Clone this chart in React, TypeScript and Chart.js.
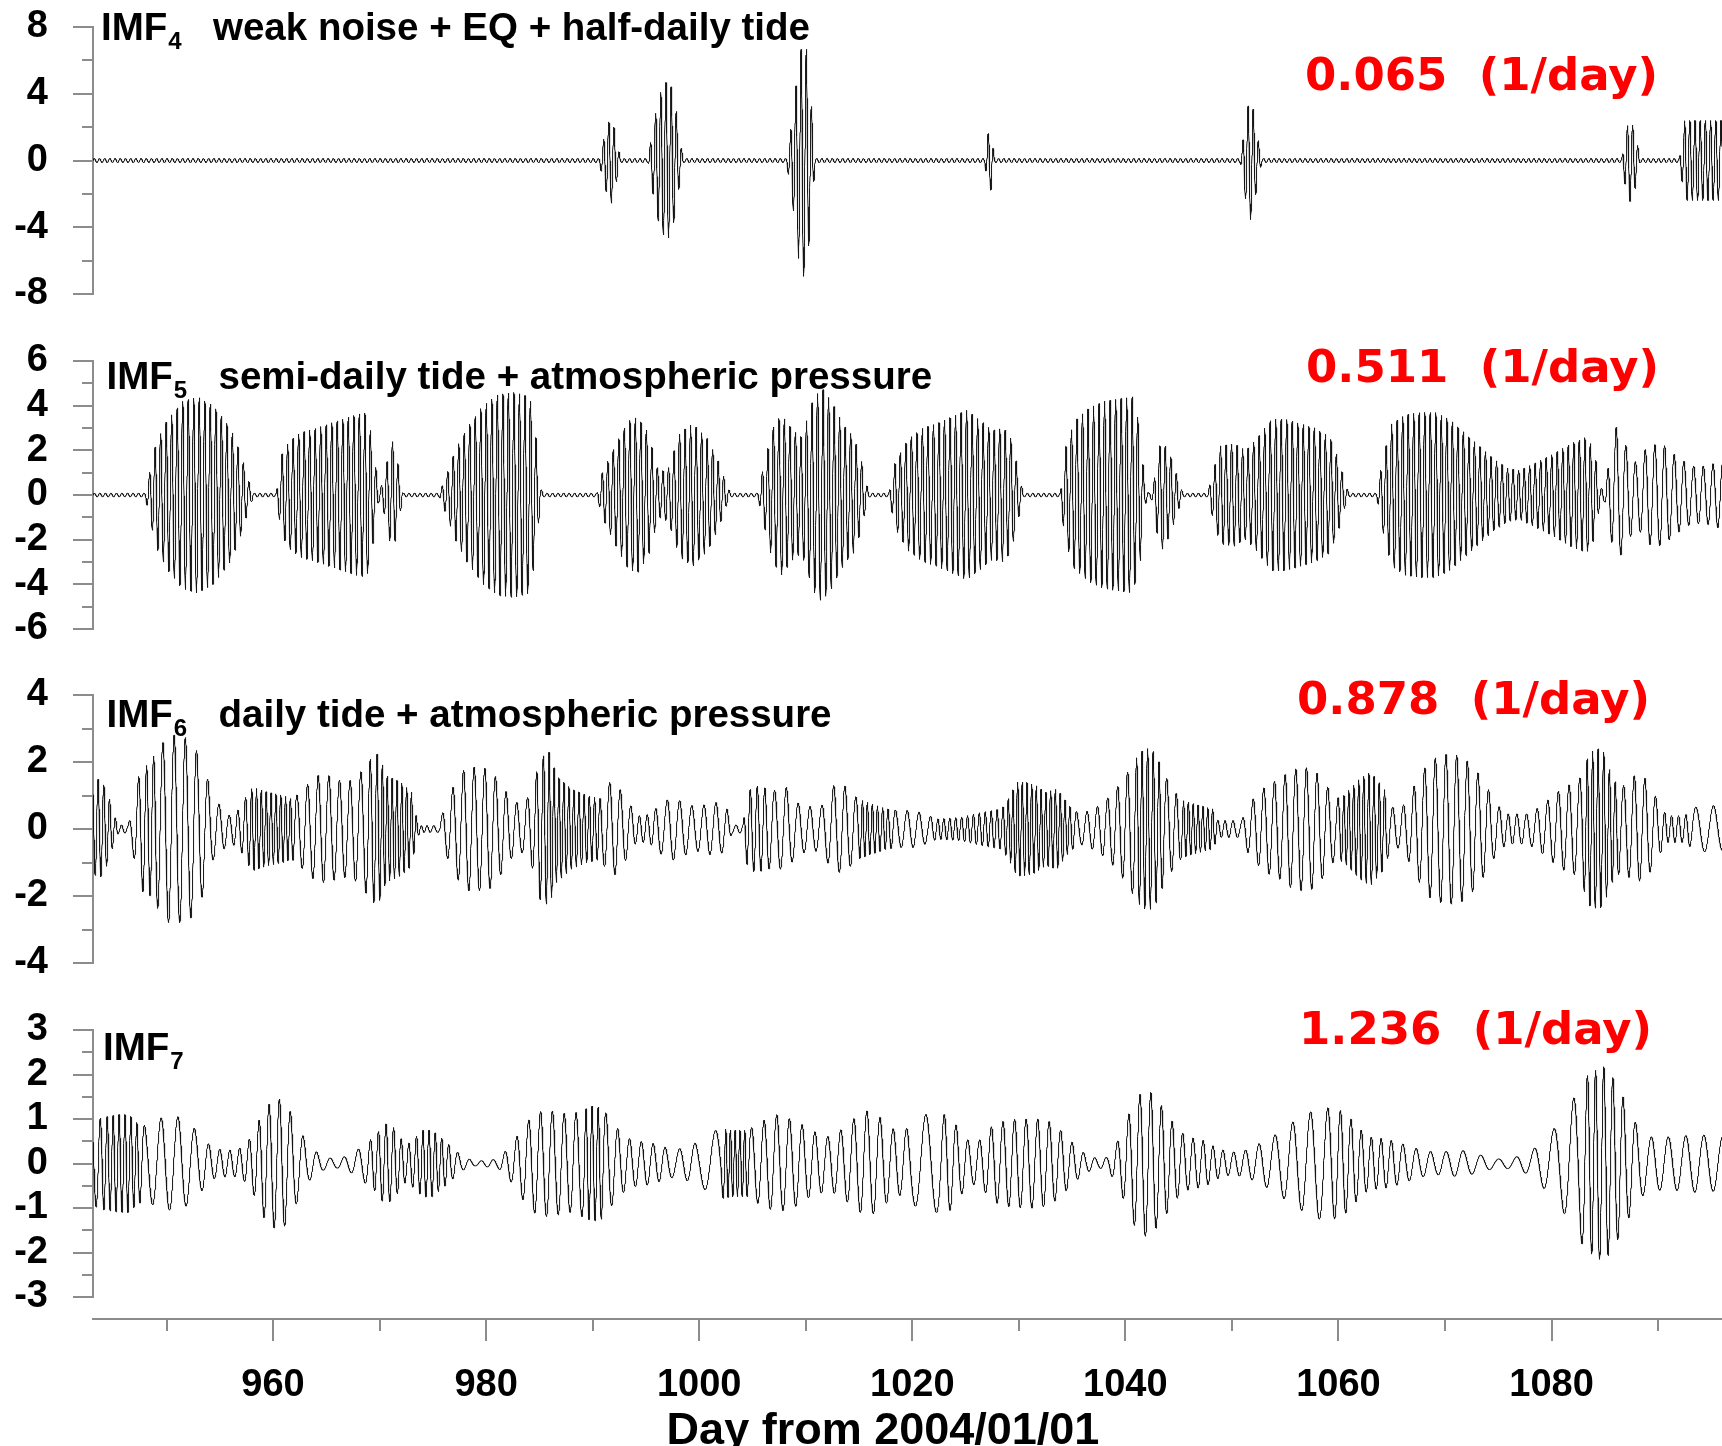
import React, { useEffect, useRef } from "react";
import { Chart, registerables } from "chart.js";

Chart.register(...registerables);

// ---- shared axis data -------------------------------------------------------
const DAY_MIN = 943.1;
const DAY_MAX = 1096.0;
const X_MAJOR_TICKS = [960, 980, 1000, 1020, 1040, 1060, 1080];
const X_MINOR_TICKS = [950, 970, 990, 1010, 1030, 1050, 1070, 1090];
const X_TITLE = "Day from 2004/01/01";

// ---- panel texts ------------------------------------------------------------
const IMF_NUMBERS = ["4", "5", "6", "7"];
const IMF_NOTES = [
  "weak noise + EQ + half-daily tide",
  "semi-daily tide + atmospheric pressure",
  "daily tide + atmospheric pressure",
  "",
];
const IMF_FREQ_LABELS = ["0.065  (1/day)", "0.511  (1/day)", "0.878  (1/day)", "1.236  (1/day)"];

// ---- y axes -----------------------------------------------------------------
const Y_RANGES = [
  [-8, 8],
  [-6, 6],
  [-4, 4],
  [-3, 3],
];
const Y_MAJOR = [
  [-8, -4, 0, 4, 8],
  [-6, -4, -2, 0, 2, 4, 6],
  [-4, -2, 0, 2, 4],
  [-3, -2, -1, 0, 1, 2, 3],
];
const Y_MINOR = [
  [-6, -2, 2, 6],
  [-5, -3, -1, 1, 3, 5],
  [-3, -1, 1, 3],
  [-2.5, -1.5, -0.5, 0.5, 1.5, 2.5],
];

// ---- IMF envelopes [day, amplitude] and carrier frequency [day, cycles/day] --
const imf4Envelope: [number, number][] = [
  [943.0, 0.12], [990.6, 0.12], [991.0, 1.2], [991.4, 2.2], [991.8, 2.6], [992.2, 1.4], [992.6, 0.12],
  [995.2, 0.12], [995.6, 1.8], [996.2, 3.8], [996.8, 4.7], [997.3, 4.6], [997.8, 3.2], [998.2, 1.2], [998.5, 0.12],
  [1008.2, 0.12], [1008.8, 2.8], [1009.3, 5.8], [1009.7, 7.1], [1010.1, 6.6], [1010.5, 3.5], [1010.9, 0.12],
  [1026.8, 0.12], [1027.1, 1.6], [1027.4, 1.8], [1027.7, 0.12],
  [1050.8, 0.12], [1051.2, 2.0], [1051.6, 3.6], [1051.9, 3.5], [1052.3, 1.8], [1052.8, 0.12],
  [1086.6, 0.12], [1087.0, 1.9], [1087.4, 2.5], [1087.9, 1.6], [1088.3, 0.12],
  [1092.0, 0.12], [1092.5, 2.4], [1096.5, 2.4],
];
const imf4Frequency: [number, number][] = [
  [943.0, 2.05], [1096.5, 2.05],
];

const imf5Envelope: [number, number][] = [
  [943.0, 0.08], [948.0, 0.08], [948.5, 1.2], [949.0, 2.3], [950.0, 3.3], [951.5, 4.2], [952.9, 4.4],
  [954.4, 4.0], [956.0, 3.0], [957.0, 1.8], [957.8, 0.5], [958.2, 0.08], [960.3, 0.08], [960.8, 1.8],
  [961.5, 2.4], [962.6, 2.8], [964.1, 3.0], [965.9, 3.3], [967.8, 3.6], [968.8, 3.7], [969.3, 2.5],
  [969.9, 0.3], [970.3, 0.5], [970.9, 2.0], [971.3, 2.5], [971.8, 1.2], [972.2, 0.08], [975.6, 0.08],
  [976.2, 0.8], [977.1, 2.0], [978.2, 3.0], [979.7, 4.0], [981.1, 4.5], [982.6, 4.6], [984.1, 4.4],
  [984.7, 2.5], [985.1, 0.3], [985.4, 0.08], [990.4, 0.08], [990.9, 1.0], [992.1, 2.2], [993.3, 3.3],
  [994.2, 3.5], [995.2, 2.8], [996.2, 1.0], [997.1, 1.2], [998.2, 2.8], [999.4, 3.2], [1000.8, 2.5],
  [1001.8, 1.5], [1002.7, 0.3], [1003.0, 0.08], [1005.5, 0.08], [1006.0, 1.2], [1006.9, 3.0],
  [1007.7, 3.6], [1008.8, 2.9], [1009.6, 2.6], [1010.7, 4.3], [1011.5, 4.8], [1012.4, 4.2],
  [1013.6, 3.1], [1014.5, 2.6], [1015.2, 1.6], [1015.8, 0.3], [1016.0, 0.08], [1017.8, 0.08],
  [1018.4, 1.5], [1019.6, 2.5], [1021.0, 3.0], [1022.3, 3.2], [1023.7, 3.5], [1025.1, 3.8],
  [1026.5, 3.3], [1027.5, 2.9], [1028.6, 3.0], [1029.3, 2.5], [1030.0, 1.0], [1030.4, 0.08],
  [1033.9, 0.08], [1034.3, 2.0], [1035.2, 3.3], [1036.6, 3.9], [1038.0, 4.2], [1039.3, 4.3],
  [1040.7, 4.4], [1041.4, 3.0], [1041.8, 0.5], [1042.2, 0.08], [1042.6, 0.3], [1043.0, 1.8],
  [1043.4, 2.5], [1044.2, 1.8], [1045.1, 0.5], [1045.4, 0.08], [1047.7, 0.08], [1048.2, 1.0],
  [1048.9, 2.2], [1050.2, 2.3], [1051.3, 2.0], [1052.3, 2.5], [1053.7, 3.4], [1055.0, 3.4],
  [1056.4, 3.2], [1057.8, 3.0], [1059.2, 2.6], [1060.0, 1.6], [1060.7, 0.4], [1061.0, 0.08],
  [1063.6, 0.08], [1064.1, 1.5], [1065.0, 3.2], [1066.3, 3.6], [1067.7, 3.7], [1069.1, 3.7],
  [1070.4, 3.4], [1071.8, 2.8], [1073.2, 2.2], [1074.6, 1.6], [1075.9, 1.2], [1077.0, 1.1],
  [1078.3, 1.4], [1080.0, 1.8], [1081.8, 2.3], [1083.3, 2.6], [1084.0, 2.0], [1084.6, 0.3],
  [1085.0, 0.3], [1085.5, 1.8], [1086.1, 3.1], [1087.0, 2.2], [1088.0, 1.4], [1089.0, 2.2],
  [1090.4, 2.3], [1091.8, 1.7], [1093.1, 1.3], [1094.5, 1.3], [1095.9, 1.5], [1096.5, 1.5],
];
const imf5Frequency: [number, number][] = [
  [943.0, 1.93], [1084.5, 1.93], [1086.0, 1.1], [1096.5, 1.1],
];

const imf6Envelope: [number, number][] = [
  [943.0, 1.2], [943.5, 1.5], [944.0, 1.4], [944.6, 0.95], [945.1, 0.4], [945.5, 0.12], [946.4, 0.12],
  [946.8, 0.6], [947.3, 1.5], [947.8, 1.9], [948.3, 1.9], [949.0, 2.3], [950.2, 2.8], [951.3, 2.8],
  [952.3, 2.65], [953.4, 2.0], [954.4, 0.9], [955.4, 0.6], [955.9, 0.4], [956.9, 0.6], [957.5, 1.0],
  [958.1, 1.25], [959.5, 1.1], [961.0, 1.0], [961.7, 0.9], [962.2, 1.0], [963.1, 1.3], [964.2, 1.6],
  [965.2, 1.6], [966.3, 1.45], [967.3, 1.45], [968.1, 1.65], [969.4, 2.2], [969.9, 2.25], [970.6, 1.6],
  [972.0, 1.4], [973.0, 1.1], [973.5, 0.3], [973.8, 0.1], [975.6, 0.1], [976.0, 0.6], [977.1, 1.4],
  [978.1, 1.85], [979.2, 1.85], [980.3, 1.8], [981.3, 1.4], [982.3, 0.9], [983.4, 0.7], [984.4, 1.2],
  [985.0, 2.1], [985.9, 2.3], [986.6, 1.6], [988.0, 1.2], [989.5, 1.0], [990.8, 0.9], [991.5, 1.4],
  [992.2, 1.35], [993.3, 0.85], [994.1, 0.4], [994.7, 0.4], [995.4, 0.45], [996.2, 0.7], [997.4, 0.95],
  [998.5, 0.8], [999.7, 0.65], [1000.8, 0.75], [1001.8, 0.8], [1002.6, 0.6], [1003.1, 0.12],
  [1004.1, 0.12], [1004.5, 1.1], [1005.2, 1.3], [1005.9, 1.25], [1007.0, 1.15], [1008.2, 1.25],
  [1009.1, 0.8], [1009.9, 0.7], [1010.8, 0.65], [1011.5, 0.7], [1012.6, 1.3], [1013.6, 1.3],
  [1014.9, 0.9], [1016.2, 0.75], [1017.6, 0.6], [1018.8, 0.55], [1020.1, 0.55], [1021.2, 0.45],
  [1022.4, 0.3], [1024.5, 0.35], [1026.5, 0.5], [1028.4, 0.6], [1029.2, 1.0], [1029.8, 1.4],
  [1030.7, 1.4], [1031.6, 1.3], [1032.5, 1.1], [1033.6, 1.2], [1034.7, 0.7], [1035.7, 0.45],
  [1036.6, 0.55], [1037.5, 0.7], [1038.6, 1.0], [1039.6, 1.4], [1040.6, 1.9], [1041.4, 2.3],
  [1041.9, 2.4], [1042.4, 2.4], [1042.9, 2.2], [1043.7, 1.6], [1044.8, 1.05], [1045.4, 0.85],
  [1047.0, 0.7], [1048.2, 0.6], [1048.7, 0.25], [1050.9, 0.25], [1051.5, 0.7], [1052.5, 1.1],
  [1053.5, 1.35], [1054.5, 1.5], [1055.5, 1.75], [1056.6, 1.85], [1057.6, 1.8], [1058.6, 1.45],
  [1059.7, 0.9], [1060.5, 1.0], [1062.0, 1.5], [1063.0, 1.7], [1064.3, 1.2], [1064.8, 0.7],
  [1065.7, 0.55], [1066.5, 0.9], [1067.6, 1.6], [1068.6, 2.05], [1069.6, 2.2], [1070.7, 2.25],
  [1071.7, 2.15], [1072.7, 1.85], [1073.8, 1.35], [1074.8, 0.75], [1075.8, 0.45], [1077.7, 0.45],
  [1078.6, 0.6], [1079.6, 0.85], [1080.5, 1.1], [1081.5, 1.3], [1082.5, 1.4], [1083.6, 2.3],
  [1084.4, 2.4], [1084.9, 2.3], [1085.4, 1.8], [1086.0, 1.4], [1086.8, 1.3], [1087.8, 1.6],
  [1088.9, 1.5], [1089.9, 0.9], [1090.8, 0.4], [1092.5, 0.4], [1093.5, 0.65], [1095.2, 0.7],
  [1096.5, 0.6],
];
const imf6Frequency: [number, number][] = [
  [943.0, 1.9], [945.5, 1.8], [946.8, 1.0], [948.5, 1.6], [949.5, 0.95], [955.0, 0.95], [957.5, 1.5],
  [958.1, 2.2], [961.7, 2.2], [962.2, 1.0], [968.5, 1.0], [969.5, 1.6], [970.3, 2.2], [973.5, 2.2],
  [976.0, 1.0], [984.0, 1.0], [985.5, 1.8], [986.2, 2.2], [990.5, 2.0], [991.0, 1.0], [993.5, 1.0],
  [994.2, 1.4], [995.5, 1.3], [996.5, 0.85], [1002.0, 0.9], [1004.4, 1.6], [1006.0, 1.4],
  [1007.0, 0.9], [1012.0, 0.9], [1014.8, 1.0], [1015.2, 2.2], [1017.6, 2.0], [1018.5, 0.9],
  [1021.5, 0.9], [1022.4, 1.8], [1028.4, 1.8], [1029.2, 2.3], [1034.7, 2.2], [1035.5, 1.0],
  [1040.8, 1.1], [1041.2, 2.0], [1043.2, 1.8], [1043.8, 1.0], [1045.2, 1.3], [1045.4, 2.2],
  [1048.3, 2.2], [1048.7, 1.6], [1051.0, 1.0], [1059.8, 1.0], [1060.4, 2.2], [1064.3, 2.0],
  [1064.8, 1.0], [1075.0, 1.0], [1075.8, 1.3], [1078.0, 1.0], [1082.8, 1.0], [1083.3, 2.0],
  [1086.0, 1.8], [1086.5, 1.0], [1090.0, 1.0], [1090.8, 1.6], [1092.8, 1.4], [1093.5, 0.6],
  [1096.5, 0.6],
];

const imf7Envelope: [number, number][] = [
  [943.0, 0.9], [943.5, 1.0], [944.3, 1.05], [945.5, 1.1], [946.5, 1.1], [947.3, 0.9], [948.1, 0.85],
  [949.7, 1.05], [951.4, 1.05], [952.8, 0.75], [954.3, 0.35], [955.4, 0.3], [956.5, 0.3], [957.3, 0.4],
  [958.1, 0.65], [959.1, 1.2], [960.1, 1.45], [961.0, 1.45], [962.1, 0.95], [963.3, 0.4], [964.7, 0.15],
  [966.0, 0.1], [967.3, 0.2], [968.7, 0.45], [969.7, 0.65], [970.4, 0.9], [971.2, 0.85], [971.9, 0.6],
  [972.5, 0.4], [973.4, 0.6], [974.1, 0.75], [974.9, 0.75], [975.7, 0.6], [976.4, 0.45], [977.8, 0.15],
  [979.0, 0.05], [981.1, 0.1], [982.3, 0.4], [983.7, 0.9], [984.7, 1.15], [985.8, 1.2], [986.9, 1.15],
  [987.9, 1.1], [989.1, 1.2], [990.0, 1.3], [990.9, 1.25], [992.1, 0.85], [993.2, 0.58], [994.3, 0.5],
  [995.3, 0.48], [996.3, 0.4], [997.7, 0.3], [999.1, 0.4], [1000.0, 0.5], [1001.9, 0.8], [1003.0, 0.75],
  [1004.5, 0.75], [1005.9, 0.95], [1007.3, 1.1], [1009.2, 0.95], [1010.4, 0.75], [1012.2, 0.6],
  [1013.6, 0.8], [1014.7, 1.05], [1015.9, 1.2], [1016.9, 1.05], [1018.0, 0.8], [1019.0, 0.7],
  [1021.0, 1.1], [1023.4, 1.1], [1024.6, 0.7], [1025.5, 0.45], [1026.5, 0.55], [1027.5, 0.85],
  [1028.6, 0.95], [1029.7, 1.0], [1031.8, 1.0], [1032.8, 0.95], [1033.9, 0.75], [1035.3, 0.4],
  [1036.3, 0.2], [1037.5, 0.1], [1038.4, 0.15], [1039.5, 0.6], [1040.7, 1.35], [1041.7, 1.65],
  [1042.4, 1.6], [1043.4, 1.3], [1044.8, 0.8], [1045.8, 0.6], [1046.8, 0.55], [1047.6, 0.5],
  [1048.5, 0.35], [1049.9, 0.25], [1051.3, 0.3], [1052.6, 0.45], [1054.1, 0.65], [1056.1, 1.0],
  [1058.1, 1.25], [1059.8, 1.25], [1060.8, 1.1], [1061.7, 0.85], [1062.8, 0.6], [1064.4, 0.55],
  [1065.3, 0.5], [1066.5, 0.4], [1067.8, 0.3], [1069.2, 0.25], [1071.5, 0.3], [1073.2, 0.2],
  [1074.8, 0.1], [1076.3, 0.12], [1078.0, 0.25], [1080.3, 0.8], [1081.8, 1.35], [1083.2, 1.95],
  [1084.8, 2.2], [1085.6, 2.0], [1086.7, 1.5], [1087.8, 0.95], [1089.0, 0.6], [1090.1, 0.6],
  [1091.6, 0.6], [1093.6, 0.65], [1096.5, 0.6],
];
const imf7Frequency: [number, number][] = [
  [943.0, 1.0], [944.6, 1.8], [947.3, 1.8], [948.1, 0.62], [952.8, 0.65], [954.3, 0.95], [956.0, 1.1],
  [958.0, 1.1], [961.0, 1.0], [962.3, 0.8], [968.5, 0.75], [969.5, 1.4], [973.4, 1.4], [974.0, 1.8],
  [976.0, 1.6], [977.5, 0.9], [989.0, 0.9], [989.4, 1.8], [990.7, 1.7], [991.2, 0.9], [996.5, 0.9],
  [997.5, 0.7], [999.5, 0.7], [1000.0, 0.5], [1002.0, 0.5], [1002.4, 2.3], [1004.4, 2.2],
  [1004.8, 0.85], [1019.5, 0.8], [1020.0, 0.5], [1022.3, 0.5], [1023.0, 0.9], [1041.0, 0.95],
  [1042.5, 1.0], [1044.8, 1.0], [1048.5, 1.1], [1054.0, 0.6], [1058.5, 0.6], [1060.3, 1.0],
  [1064.0, 1.1], [1066.5, 0.8], [1071.5, 0.6], [1078.0, 0.6], [1080.3, 0.5], [1082.5, 0.6],
  [1083.8, 1.4], [1086.5, 1.0], [1088.5, 0.65], [1096.5, 0.55],
];

const IMF_ENVELOPES = [imf4Envelope, imf5Envelope, imf6Envelope, imf7Envelope];
const IMF_FREQUENCIES = [imf4Frequency, imf5Frequency, imf6Frequency, imf7Frequency];
const IMF_START_PHASE = [0, 0, 2.2, 2.6];

// ---- layout (page pixels) ---------------------------------------------------
const PAGE_W = 1722;
const PAGE_H = 1446;
const AXIS_LEFT = 93;
// vertical room above/below each plot area; must exceed label half-height + tick padding
const PAD = 80;
const PANELS = [
  { top: 27, bottom: 294, imfX: 101, imfBase: 39.5, freqX: 1305, freqBase: 90 },
  { top: 361, bottom: 629, imfX: 106.5, imfBase: 388.8, freqX: 1306, freqBase: 382 },
  { top: 695, bottom: 963, imfX: 106.5, imfBase: 727, freqX: 1297, freqBase: 714 },
  { top: 1030, bottom: 1297, imfX: 103, imfBase: 1060, freqX: 1299, freqBase: 1044 },
];
const X_AXIS_TOP = 1290;
const X_AXIS_LINE = 1319;
const X_AXIS_CANVAS_H = 190;

const SANS = '"Liberation Sans", Arial, Helvetica, sans-serif';
const RED_FONT = '"DejaVu Sans", Verdana, sans-serif';
const AXIS_COLOR = "#8c8c8c";
const LINE_COLOR = "#151515";

// linear lookup in a knot table, with a moving cursor for sequential access
function lookup(knots: [number, number][], t: number, cur: { i: number }) {
  if (t <= knots[0][0]) return knots[0][1];
  const last = knots.length - 1;
  if (t >= knots[last][0]) return knots[last][1];
  let i = cur.i;
  while (i < last - 1 && t > knots[i + 1][0]) i++;
  cur.i = i;
  const [x0, y0] = knots[i];
  const [x1, y1] = knots[i + 1];
  return y0 + ((t - x0) / (x1 - x0)) * (y1 - y0);
}

// oscillation whose amplitude follows the envelope and whose phase advances
// with the local carrier frequency
function buildTrace(env: [number, number][], freq: [number, number][], phase0: number) {
  const step = 1 / 80;
  const n = Math.ceil((DAY_MAX + 0.3 - DAY_MIN) / step);
  const pts: { x: number; y: number }[] = [];
  const ce = { i: 0 };
  const cf = { i: 0 };
  let phase = phase0;
  for (let k = 0; k <= n; k++) {
    const t = DAY_MIN + k * step;
    const a = lookup(env, t, ce);
    pts.push({ x: t, y: a * Math.sin(phase) });
    phase += 2 * Math.PI * lookup(freq, t, cf) * step;
  }
  return pts;
}

function panelDecor(i: number) {
  const p = PANELS[i];
  const canvasTop = p.top - PAD;
  return {
    id: "panelDecor" + i,
    afterDraw(chart: any) {
      const ctx = chart.ctx;
      const ys = chart.scales.y;
      const x0 = chart.chartArea.left;
      ctx.save();
      ctx.strokeStyle = AXIS_COLOR;
      ctx.lineWidth = 2;
      ctx.beginPath();
      for (const v of Y_MAJOR[i]) {
        const py = Math.round(ys.getPixelForValue(v));
        ctx.moveTo(x0 - 20, py);
        ctx.lineTo(x0, py);
      }
      for (const v of Y_MINOR[i]) {
        const py = Math.round(ys.getPixelForValue(v));
        ctx.moveTo(x0 - 11, py);
        ctx.lineTo(x0, py);
      }
      ctx.stroke();

      // IMF name with subscript and its note
      ctx.fillStyle = "#000";
      ctx.textAlign = "left";
      ctx.textBaseline = "alphabetic";
      ctx.font = `bold 38.5px ${SANS}`;
      const base = p.imfBase - canvasTop;
      ctx.fillText("IMF", p.imfX, base);
      const w = ctx.measureText("IMF").width;
      ctx.font = `bold 24px ${SANS}`;
      ctx.fillText(IMF_NUMBERS[i], p.imfX + w + 1, base + 9);
      if (IMF_NOTES[i]) {
        ctx.font = `bold 38.5px ${SANS}`;
        ctx.fillText(IMF_NOTES[i], p.imfX + 112, base);
      }

      // dominant frequency
      ctx.fillStyle = "#ff0000";
      ctx.font = `bold 45px ${RED_FONT}`;
      ctx.fillText(IMF_FREQ_LABELS[i], p.freqX, p.freqBase - canvasTop);
      ctx.restore();
    },
  };
}

const xAxisDecor = {
  id: "xAxisDecor",
  afterDraw(chart: any) {
    const ctx = chart.ctx;
    const xs = chart.scales.x;
    const y0 = X_AXIS_LINE - X_AXIS_TOP;
    ctx.save();
    ctx.strokeStyle = AXIS_COLOR;
    ctx.lineWidth = 2;
    ctx.beginPath();
    for (const v of X_MAJOR_TICKS) {
      const px = Math.round(xs.getPixelForValue(v));
      ctx.moveTo(px, y0);
      ctx.lineTo(px, y0 + 22);
    }
    for (const v of X_MINOR_TICKS) {
      const px = Math.round(xs.getPixelForValue(v));
      ctx.moveTo(px, y0);
      ctx.lineTo(px, y0 + 12);
    }
    ctx.stroke();
    ctx.fillStyle = "#000";
    ctx.font = `bold 45px ${SANS}`;
    ctx.textAlign = "center";
    ctx.textBaseline = "alphabetic";
    ctx.fillText(X_TITLE, 883, 1444 - X_AXIS_TOP);
    ctx.restore();
  },
};

export default function App() {
  const r0 = useRef<HTMLCanvasElement>(null);
  const r1 = useRef<HTMLCanvasElement>(null);
  const r2 = useRef<HTMLCanvasElement>(null);
  const r3 = useRef<HTMLCanvasElement>(null);
  const rx = useRef<HTMLCanvasElement>(null);
  const panelRefs = [r0, r1, r2, r3];

  useEffect(() => {
    const charts: Chart[] = [];
    PANELS.forEach((p, i) => {
      const canvas = panelRefs[i].current;
      if (!canvas) return;
      const trace = buildTrace(IMF_ENVELOPES[i], IMF_FREQUENCIES[i], IMF_START_PHASE[i]);
      charts.push(
        new Chart(canvas, {
          type: "line",
          data: {
            datasets: [
              {
                data: trace as any,
                borderColor: LINE_COLOR,
                borderWidth: 1,
                pointRadius: 0,
                tension: 0,
                fill: false,
              },
            ],
          },
          options: {
            animation: false,
            responsive: false,
            devicePixelRatio: 1,
            parsing: false,
            normalized: true,
            events: [],
            layout: { padding: { top: PAD, bottom: PAD, left: 0, right: 0 } },
            plugins: { legend: { display: false }, tooltip: { enabled: false } },
            scales: {
              x: { type: "linear", display: false, min: DAY_MIN, max: DAY_MAX },
              y: {
                type: "linear",
                min: Y_RANGES[i][0],
                max: Y_RANGES[i][1],
                afterFit: (s: any) => {
                  s.width = AXIS_LEFT;
                },
                afterBuildTicks: (s: any) => {
                  s.ticks = Y_MAJOR[i].map((v) => ({ value: v }));
                },
                grid: { display: false, drawTicks: false },
                border: { display: true, color: AXIS_COLOR, width: 2 },
                ticks: {
                  padding: 45,
                  autoSkip: false,
                  color: "#000",
                  font: { family: SANS, size: 38, weight: "bold" },
                  callback: (v: any) => String(v),
                },
              },
            },
          } as any,
          plugins: [panelDecor(i)],
        })
      );
    });

    if (rx.current) {
      charts.push(
        new Chart(rx.current, {
          type: "line",
          data: { datasets: [] },
          options: {
            animation: false,
            responsive: false,
            devicePixelRatio: 1,
            events: [],
            layout: { padding: { top: 0, bottom: 0, left: AXIS_LEFT, right: 0 } },
            plugins: { legend: { display: false }, tooltip: { enabled: false } },
            scales: {
              x: {
                type: "linear",
                position: "bottom",
                min: DAY_MIN,
                max: DAY_MAX,
                afterFit: (s: any) => {
                  s.height = X_AXIS_CANVAS_H - (X_AXIS_LINE - X_AXIS_TOP);
                },
                afterBuildTicks: (s: any) => {
                  s.ticks = X_MAJOR_TICKS.map((v) => ({ value: v }));
                },
                grid: { display: false, drawTicks: false },
                border: { display: true, color: AXIS_COLOR, width: 2 },
                ticks: {
                  padding: 44,
                  maxRotation: 0,
                  autoSkip: false,
                  color: "#000",
                  font: { family: SANS, size: 38, weight: "bold" },
                  callback: (v: any) => String(v),
                },
              },
              y: { display: false, min: 0, max: 1 },
            },
          } as any,
          plugins: [xAxisDecor],
        })
      );
    }
    return () => charts.forEach((c) => c.destroy());
  }, []);

  return (
    <div
      style={{
        position: "absolute",
        left: 0,
        top: 0,
        width: PAGE_W,
        height: PAGE_H,
        overflow: "hidden",
        background: "#fff",
      }}
    >
      {PANELS.map((p, i) => (
        <canvas
          key={i}
          ref={panelRefs[i]}
          width={PAGE_W}
          height={p.bottom - p.top + 2 * PAD}
          style={{
            position: "absolute",
            left: 0,
            top: p.top - PAD,
            width: PAGE_W,
            height: p.bottom - p.top + 2 * PAD,
          }}
        />
      ))}
      <canvas
        ref={rx}
        width={PAGE_W}
        height={X_AXIS_CANVAS_H}
        style={{
          position: "absolute",
          left: 0,
          top: X_AXIS_TOP,
          width: PAGE_W,
          height: X_AXIS_CANVAS_H,
        }}
      />
    </div>
  );
}
